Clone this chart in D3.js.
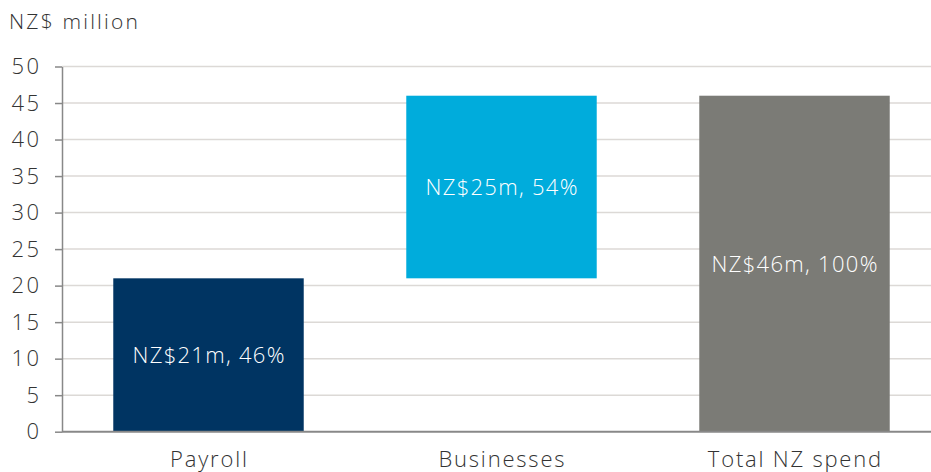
<!DOCTYPE html>
<html><head><meta charset="utf-8">
<script src="https://cdn.jsdelivr.net/npm/d3@7"></script>
<style>body{margin:0;background:#fff}svg{display:block}text{font-family:"Open Sans",sans-serif;font-weight:300}</style>
</head><body>
<svg id="c" width="931" height="472"></svg>
<script>
const categories = ["Payroll", "Businesses", "Total NZ spend"];
const barStart = [0, 21, 0];
const barEnd = [21, 46, 46];
const barLabels = ["NZ$21m, 46%", "NZ$25m, 54%", "NZ$46m, 100%"];
const barColors = ["#003462", "#00acdc", "#7b7b76"];
const yTicks = [0, 5, 10, 15, 20, 25, 30, 35, 40, 45, 50];
const yTitle = "NZ$ million";

const svg = d3.select("#c");
const x0 = 62, x1 = 941, yTop = 66.5, yBot = 431.7;
const x = d3.scaleBand().domain(categories).range([x0, x1]).paddingInner(0.35).paddingOuter(0.175);
const y = d3.scaleLinear().domain([0, 50]).range([yBot, yTop]);

svg.append("g").selectAll("line").data(yTicks.filter(t => t > 0)).join("line")
  .attr("x1", x0).attr("x2", 931).attr("y1", d => y(d)).attr("y2", d => y(d))
  .attr("stroke", "#dcd9d6").attr("stroke-width", 1.5);

const data = categories.map((c, i) => ({c, s: barStart[i], e: barEnd[i], l: barLabels[i], col: barColors[i]}));
svg.append("g").selectAll("rect").data(data).join("rect")
  .attr("x", d => x(d.c)).attr("width", x.bandwidth())
  .attr("y", d => y(d.e)).attr("height", d => y(d.s) - y(d.e))
  .attr("fill", d => d.col);

svg.append("g").selectAll("text").data(data).join("text")
  .attr("x", d => x(d.c) + x.bandwidth() / 2 + 0.65)
  .attr("y", d => y((d.s + d.e) / 2))
  .attr("dy", "0.36em").attr("text-anchor", "middle")
  .attr("fill", "#fff").attr("font-size", 22).attr("letter-spacing", "1.3px")
  .text(d => d.l);

const ya = svg.append("g").attr("transform", `translate(${x0},0)`)
  .call(d3.axisLeft(y).tickValues(yTicks).tickSize(7).tickPadding(11).tickSizeOuter(0));
ya.select(".domain").attr("stroke", "#888").attr("stroke-width", 1.5);
ya.selectAll(".tick line").attr("stroke", "#888").attr("stroke-width", 1.5);
ya.selectAll("text").attr("font-size", 22).attr("fill", "#333").attr("font-family", null)
  .attr("letter-spacing", "2.5px").attr("dx", "-2.5px");

svg.append("line").attr("x1", x0).attr("x2", 931).attr("y1", y(0)).attr("y2", y(0))
  .attr("stroke", "#888").attr("stroke-width", 2);

svg.append("g").selectAll("text").data(categories).join("text")
  .attr("x", d => x(d) + x.bandwidth() / 2 + 0.9).attr("y", 467)
  .attr("text-anchor", "middle").attr("fill", "#333").attr("font-size", 22).attr("letter-spacing", "1.8px")
  .text(d => d);

svg.append("text").attr("x", 9).attr("y", 29).attr("fill", "#333").attr("font-size", 21).attr("letter-spacing", "2.2px").text(yTitle);
</script>
</body></html>
